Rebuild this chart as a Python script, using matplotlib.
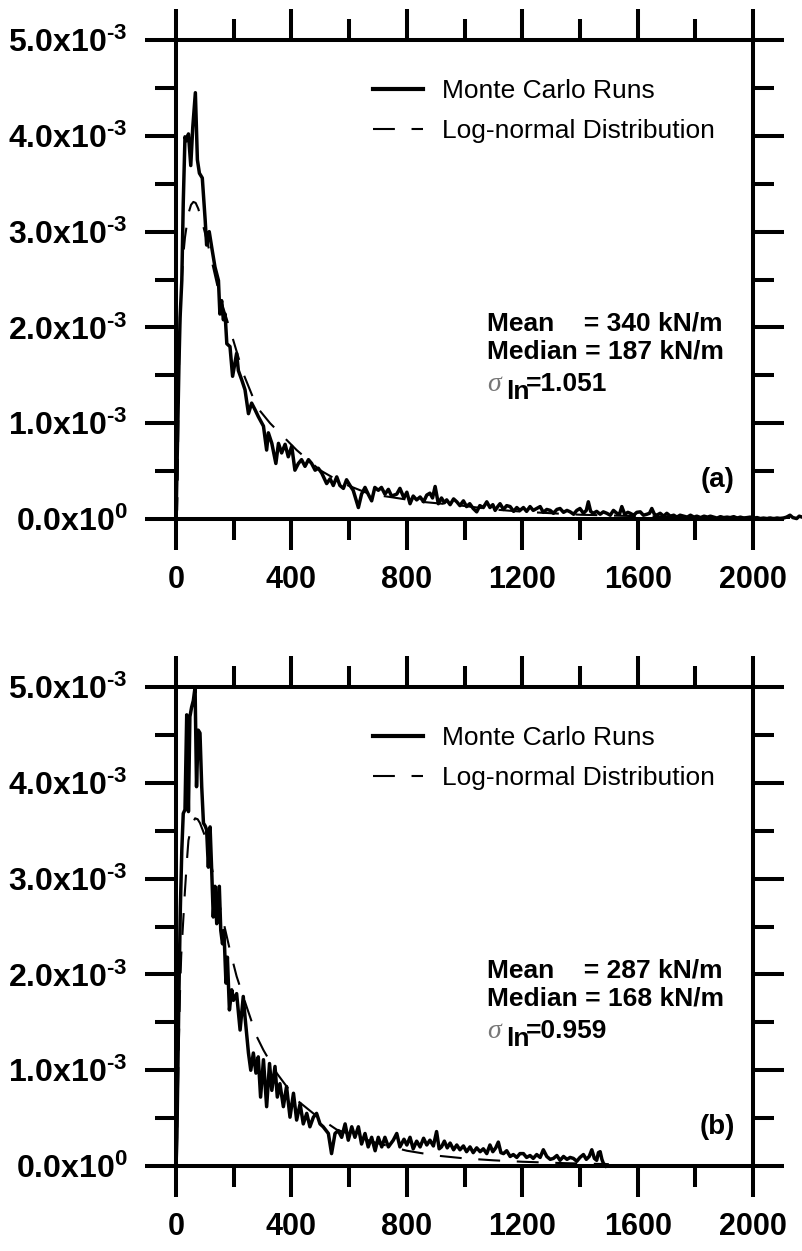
import numpy as np
import matplotlib.pyplot as plt

plt.rcParams['font.family'] = 'Liberation Sans'
plt.rcParams['mathtext.fontset'] = 'custom'
plt.rcParams['mathtext.rm'] = 'Liberation Sans:bold'
plt.rcParams['mathtext.it'] = 'Liberation Sans:bold'
plt.rcParams['mathtext.bf'] = 'Liberation Sans:bold'

# values, y in units of 1e-3
mc_a_x = [0, 3, 6, 10, 14, 20, 25, 31, 37, 43,
          51, 58, 67, 74, 81, 91, 101, 106, 115, 124,
          135, 147, 152, 158, 164, 170, 176, 187, 196, 210,
          216, 228, 239, 251, 262, 274, 285, 303, 314, 320,
          332, 346, 355, 366, 378, 389, 401, 412, 424, 435,
          447, 459, 470, 482, 493, 505, 522, 534, 545, 557,
          568, 580, 591, 603, 614, 626, 632, 643, 655, 666,
          678, 689, 701, 712, 724, 736, 747, 765, 776, 790,
          800, 811, 822, 834, 846, 858, 869, 880, 889, 898,
          909, 920, 930, 938, 950, 962, 973, 984, 996, 1007,
          1018, 1030, 1042, 1053, 1065, 1077, 1088, 1098, 1106, 1115,
          1123, 1135, 1146, 1158, 1170, 1181, 1192, 1204, 1215, 1227,
          1238, 1250, 1262, 1273, 1285, 1297, 1308, 1320, 1331, 1343,
          1355, 1366, 1378, 1389, 1400, 1412, 1422, 1429, 1437, 1446,
          1458, 1470, 1481, 1493, 1505, 1516, 1528, 1537, 1545, 1555,
          1566, 1574, 1586, 1597, 1609, 1620, 1632, 1641, 1649, 1658,
          1666, 1678, 1690, 1701, 1713, 1725, 1736, 1747, 1760, 1772,
          1783, 1795, 1805, 1818, 1830, 1842, 1852, 1863, 1875, 1887,
          1898, 1910, 1921, 1933, 1945, 1956, 1968, 1978, 1990, 2002,
          2014, 2025, 2036, 2048, 2060, 2071, 2083, 2093, 2105, 2116,
          2128, 2138, 2151, 2160, 2170]
mc_a_y = [0.0, 0.48, 1.0, 1.6, 2.1, 2.49, 3.3, 3.99, 3.95, 4.02,
          3.69, 4.09, 4.45, 3.75, 3.61, 3.56, 3.12, 2.86, 3.0, 2.83,
          2.63, 2.49, 2.14, 2.28, 2.08, 2.14, 1.83, 1.80, 1.49, 1.73,
          1.55, 1.45, 1.35, 1.10, 1.21, 1.14, 1.07, 0.97, 0.72, 0.90,
          0.79, 0.58, 0.79, 0.69, 0.78, 0.65, 0.76, 0.51, 0.58, 0.62,
          0.55, 0.62, 0.58, 0.51, 0.53, 0.48, 0.37, 0.42, 0.35, 0.44,
          0.35, 0.32, 0.41, 0.35, 0.30, 0.18, 0.12, 0.26, 0.33, 0.26,
          0.19, 0.33, 0.30, 0.33, 0.26, 0.31, 0.24, 0.26, 0.32, 0.22,
          0.28, 0.16, 0.24, 0.20, 0.23, 0.18, 0.25, 0.27, 0.22, 0.34,
          0.16, 0.22, 0.17, 0.20, 0.15, 0.21, 0.18, 0.14, 0.19, 0.13,
          0.16, 0.11, 0.075, 0.14, 0.12, 0.18, 0.12, 0.15, 0.09, 0.13,
          0.16, 0.10, 0.14, 0.13, 0.08, 0.12, 0.09, 0.12, 0.08, 0.13,
          0.09, 0.11, 0.13, 0.07, 0.10, 0.09, 0.06, 0.10, 0.11, 0.07,
          0.09, 0.075, 0.05, 0.09, 0.11, 0.06, 0.09, 0.18, 0.08, 0.06,
          0.08, 0.05, 0.075, 0.06, 0.04, 0.09, 0.06, 0.05, 0.13, 0.05,
          0.07, 0.06, 0.04, 0.07, 0.075, 0.04, 0.05, 0.06, 0.11, 0.05,
          0.04, 0.06, 0.03, 0.06, 0.03, 0.04, 0.02, 0.04, 0.03, 0.02,
          0.04, 0.02, 0.03, 0.015, 0.03, 0.02, 0.03, 0.02, 0.01, 0.025,
          0.015, 0.02, 0.015, 0.025, 0.01, 0.02, 0.01, 0.015, 0.02, 0.01,
          0.015, 0.005, 0.01, 0.005, 0.01, 0.0, 0.01, 0.005, 0.01, 0.02,
          0.04, 0.015, 0.005, 0.03, 0.02]

ln_a_x = [0, 4, 6, 8, 11, 15, 20, 25, 31, 43, 52, 60, 68, 77, 95, 118, 152,
          193, 233, 280, 326, 372, 418, 499, 580, 672, 742, 850, 973, 1100,
          1203, 1400, 1600, 1800, 2000, 2170]
ln_a_y = [0.0, 0.1, 0.45, 1.1, 1.7, 2.2, 2.5, 2.75, 2.94, 3.19, 3.28, 3.31,
          3.30, 3.24, 3.05, 2.77, 2.32, 1.92, 1.52, 1.17, 1.0, 0.86, 0.72,
          0.51, 0.37, 0.26, 0.23, 0.18, 0.146, 0.10, 0.076, 0.045, 0.03,
          0.02, 0.015, 0.01]

mc_b_x = [0, 3, 6, 10, 15, 20, 25, 31, 37, 43,
          48, 54, 60, 66, 71, 77, 83, 89, 95, 101,
          106, 112, 118, 124, 129, 135, 141, 147, 150, 155,
          161, 166, 173, 178, 185, 193, 199, 210, 222, 233,
          239, 251, 259, 268, 277, 285, 293, 303, 314, 324,
          332, 343, 351, 360, 372, 383, 395, 407, 418, 430,
          441, 453, 464, 476, 487, 499, 510, 528, 539, 551,
          562, 574, 586, 597, 609, 620, 632, 643, 655, 666,
          678, 690, 701, 713, 724, 736, 753, 765, 776, 790,
          800, 811, 822, 834, 846, 858, 869, 880, 892, 903,
          912, 920, 930, 940, 950, 962, 973, 984, 996, 1007,
          1019, 1030, 1042, 1054, 1065, 1077, 1088, 1098, 1108, 1117,
          1126, 1135, 1146, 1158, 1169, 1181, 1192, 1204, 1215, 1227,
          1238, 1250, 1262, 1273, 1285, 1297, 1308, 1320, 1331, 1343,
          1355, 1366, 1377, 1389, 1400, 1412, 1422, 1432, 1441, 1450,
          1458, 1464, 1470, 1476, 1481, 1490]
mc_b_y = [0.0, 0.3, 0.97, 1.8, 2.7, 3.3, 3.68, 3.72, 4.71, 3.70,
          4.69, 4.79, 4.86, 5.0, 3.96, 4.55, 4.52, 3.96, 3.58, 3.55,
          3.51, 3.12, 3.54, 3.05, 2.60, 2.92, 2.53, 2.67, 2.92, 2.46,
          2.32, 2.46, 1.91, 2.18, 1.63, 1.84, 1.73, 1.80, 1.42, 1.77,
          1.56, 1.18, 1.00, 1.18, 0.97, 1.14, 0.72, 1.11, 0.62, 1.07,
          0.79, 1.04, 0.72, 0.86, 0.62, 0.83, 0.51, 0.76, 0.48, 0.65,
          0.44, 0.55, 0.41, 0.51, 0.55, 0.44, 0.41, 0.34, 0.13, 0.34,
          0.37, 0.30, 0.44, 0.27, 0.41, 0.30, 0.41, 0.23, 0.34, 0.20,
          0.30, 0.16, 0.30, 0.20, 0.30, 0.20, 0.27, 0.34, 0.20, 0.28,
          0.22, 0.30, 0.18, 0.26, 0.20, 0.29, 0.22, 0.27, 0.21, 0.36,
          0.18, 0.20, 0.26, 0.19, 0.24, 0.17, 0.22, 0.17, 0.21, 0.15,
          0.20, 0.14, 0.19, 0.15, 0.18, 0.13, 0.22, 0.15, 0.19, 0.25,
          0.14, 0.13, 0.16, 0.10, 0.12, 0.09, 0.13, 0.13, 0.09, 0.11,
          0.08, 0.12, 0.09, 0.17, 0.10, 0.07, 0.08, 0.11, 0.06, 0.10,
          0.07, 0.09, 0.08, 0.05, 0.09, 0.12, 0.07, 0.10, 0.17, 0.08,
          0.06, 0.14, 0.15, 0.07, 0.03, 0.0]

ln_b_x = [0, 3, 6, 9, 14, 18, 23, 31, 38, 43, 51, 58, 66, 75, 83, 101, 118,
          152, 187, 210, 245, 280, 303, 349, 418, 488, 557, 626, 696, 800,
          900, 1000, 1100, 1200, 1350, 1500]
ln_b_y = [0.0, 0.2, 0.7, 1.2, 1.84, 2.2, 2.46, 2.88, 3.2, 3.40, 3.51, 3.58,
          3.63, 3.62, 3.58, 3.44, 3.20, 2.71, 2.25, 1.98, 1.66, 1.35, 1.21,
          0.97, 0.69, 0.52, 0.38, 0.31, 0.24, 0.16, 0.11, 0.08, 0.06, 0.045,
          0.03, 0.02]

stats_a = ['Mean    = 340 kN/m', 'Median = 187 kN/m', '=1.051']
stats_b = ['Mean    = 287 kN/m', 'Median = 168 kN/m', '=0.959']

xticks = [0, 400, 800, 1200, 1600, 2000]
xlabels = ['0', '400', '800', '1200', '1600', '2000']
yticks = [0, 1e-3, 2e-3, 3e-3, 4e-3, 5e-3]
ylabels = ['0.0x10$^{0}$', '1.0x10$^{\\text{-3}}$', '2.0x10$^{\\text{-3}}$',
           '3.0x10$^{\\text{-3}}$', '4.0x10$^{\\text{-3}}$',
           '5.0x10$^{\\text{-3}}$']

fig = plt.figure(figsize=(8.02, 12.51), dpi=100)
ax_a = fig.add_axes([0.2195, 0.5851, 0.7195, 0.3829])
ax_b = fig.add_axes([0.2195, 0.0679, 0.7195, 0.3829])

panels = [
    (ax_a, mc_a_x, mc_a_y, ln_a_x, ln_a_y, stats_a, '(a)'),
    (ax_b, mc_b_x, mc_b_y, ln_b_x, ln_b_y, stats_b, '(b)'),
]

for ax, mx, my, lx, ly, stats, tag in panels:
    ax.plot(mx, np.array(my) * 1e-3, color='black', lw=2.5,
            clip_on=False, label='Monte Carlo Runs', zorder=3)
    ax.plot(lx, np.array(ly) * 1e-3, color='black', lw=1.5,
            ls=(0, (10.5, 8)), clip_on=False,
            label='Log-normal Distribution', zorder=2)

    ax.set_xlim(0, 2000)
    ax.set_ylim(0, 5e-3)
    ax.set_xticks(xticks, xlabels)
    ax.set_xticks(np.arange(200, 2000, 400), minor=True)
    ax.set_yticks(yticks, ylabels)
    ax.set_yticks(np.arange(0.5e-3, 5e-3, 1e-3), minor=True)
    for s in ax.spines.values():
        s.set_linewidth(2.9)
    ax.tick_params(which='both', direction='out', top=True, right=True,
                   width=2.9)
    ax.tick_params(which='major', length=22)
    ax.tick_params(which='minor', length=15)
    ax.tick_params(axis='x', which='major', pad=11, labelsize=22)
    ax.tick_params(axis='y', which='major', pad=13, labelsize=23)
    for lab in ax.get_xticklabels() + ax.get_yticklabels():
        lab.set_fontweight('bold')

    leg = ax.legend(frameon=False, loc='upper left',
                    bbox_to_anchor=(0.341, 0.918), borderaxespad=0,
                    borderpad=0, handlelength=1.9, handletextpad=0.72,
                    labelspacing=0.6, prop=dict(size=19))
    leg.get_lines()[0].set_linewidth(3)

    ax.text(0.539, 0.409, stats[0], transform=ax.transAxes, fontsize=19,
            fontweight='bold', ha='left', va='center')
    ax.text(0.539, 0.349, stats[1], transform=ax.transAxes, fontsize=19,
            fontweight='bold', ha='left', va='center')
    ax.text(0.539, 0.281, '\u03c3', transform=ax.transAxes, fontsize=20,
            family='Liberation Serif', style='italic', color='#777777',
            ha='left', va='center')
    ax.text(0.572, 0.265, 'ln', transform=ax.transAxes, fontsize=19,
            fontweight='bold', ha='left', va='center')
    ax.text(0.607, 0.281, stats[2], transform=ax.transAxes, fontsize=19,
            fontweight='bold', ha='left', va='center')
    ax.text(0.938, 0.081, tag, transform=ax.transAxes, fontsize=20,
            fontweight='bold', ha='center', va='center')

fig.savefig('out.png', dpi=100)
